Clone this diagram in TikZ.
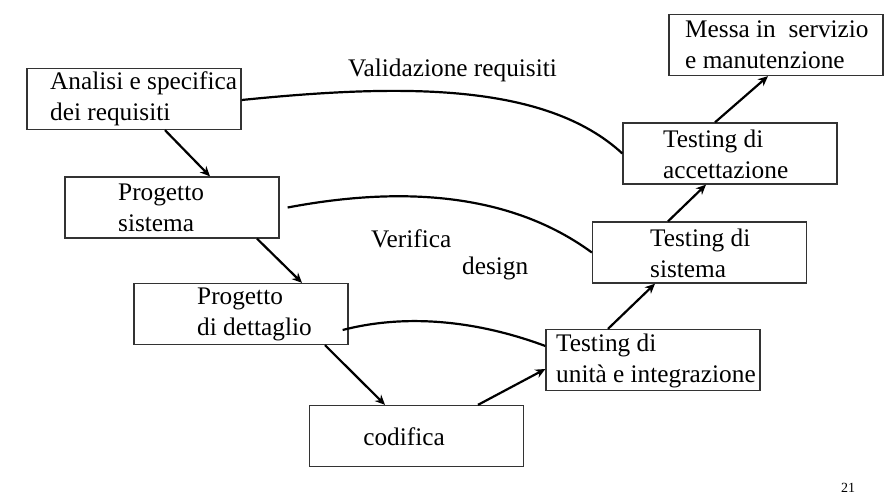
\documentclass[tikz,border=0pt]{standalone}
\usepackage{fontspec}
\setmainfont{Liberation Serif}
\usetikzlibrary{arrows.meta}
\begin{document}
\begin{tikzpicture}[x=1pt,y=-1pt,
  fase/.style={draw=black!80,line width=1.3pt,minimum width=214pt,minimum height=61pt,inner sep=0pt},
  testo/.style={anchor=west,align=left,inner sep=0pt,font=\fontsize{25.3}{31}\selectfont},
  freccia/.style={line width=2.2pt,-{Stealth[length=10pt,width=9pt]}},
  legame/.style={line width=2.2pt}]
  \useasboundingbox (0,0) rectangle (895,499);
  \fill[white] (0,0) rectangle (895,499);
  \node[fase] (ana) at (134,99) {};
  \node[fase] (sis) at (172,207.5) {};
  \node[fase] (det) at (241,314) {};
  \node[fase] (cod) at (416.5,436) {};
  \node[fase] (uni) at (653,360) {};
  \node[fase] (tsi) at (699.5,252.5) {};
  \node[fase] (acc) at (730,153.5) {};
  \node[fase] (mes) at (776,45) {};
  \node[testo] (anat) at (50,99) {Analisi e specifica\\dei requisiti};
  \node[testo] (sist) at (118,207.5) {Progetto\\sistema};
  \node[testo] (dett) at (197,314) {Progetto\\di dettaglio};
  \node[testo,anchor=center] (codt) at (404,437) {codifica};
  \node[testo] (unit) at (556,361) {Testing di\\unità e integrazione};
  \node[testo] (tsit) at (650,253) {Testing di\\sistema};
  \node[testo] (acct) at (663,154) {Testing di\\accettazione};
  \node[testo] (mest) at (685,45) {Messa in~ servizio\\e manutenzione};
  \node[testo] (val) at (348,70) {Validazione requisiti};
  \node[testo] (ver) at (371,239) {Verifica};
  \node[testo] (des) at (462,268) {design};
  \node[anchor=south,inner sep=0pt,font=\fontsize{14}{14}\selectfont] (num) at (848,493) {21};
  \draw[freccia] ([xshift=31pt]ana.south) -- ([xshift=38pt]sis.north);
  \draw[freccia] ([xshift=85pt]sis.south) -- ([xshift=61pt]det.north);
  \draw[freccia] ([xshift=84pt]det.south) -- ([xshift=-31.5pt]cod.north);
  \draw[freccia] ([xshift=61.5pt]cod.north) -- ([yshift=-9pt]uni.west);
  \draw[freccia] ([xshift=-45pt]uni.north) -- ([xshift=-44.5pt]tsi.south);
  \draw[freccia] ([xshift=-31.5pt]tsi.north) -- ([xshift=-24pt]acc.south);
  \draw[freccia] ([xshift=-15pt]acc.north) -- ([xshift=-8pt]mes.south);
  \draw[legame] ([yshift=-1pt]ana.east) .. controls (400,84) and (545,82) .. (acc.west);
  \draw[legame] ([xshift=8pt]sis.east) .. controls (380,190) and (500,185) .. (tsi.west);
  \draw[legame] ([xshift=-6pt,yshift=-16pt]det.east) .. controls (400,315) and (470,318) .. ([yshift=14pt]uni.west);
\end{tikzpicture}
\end{document}
